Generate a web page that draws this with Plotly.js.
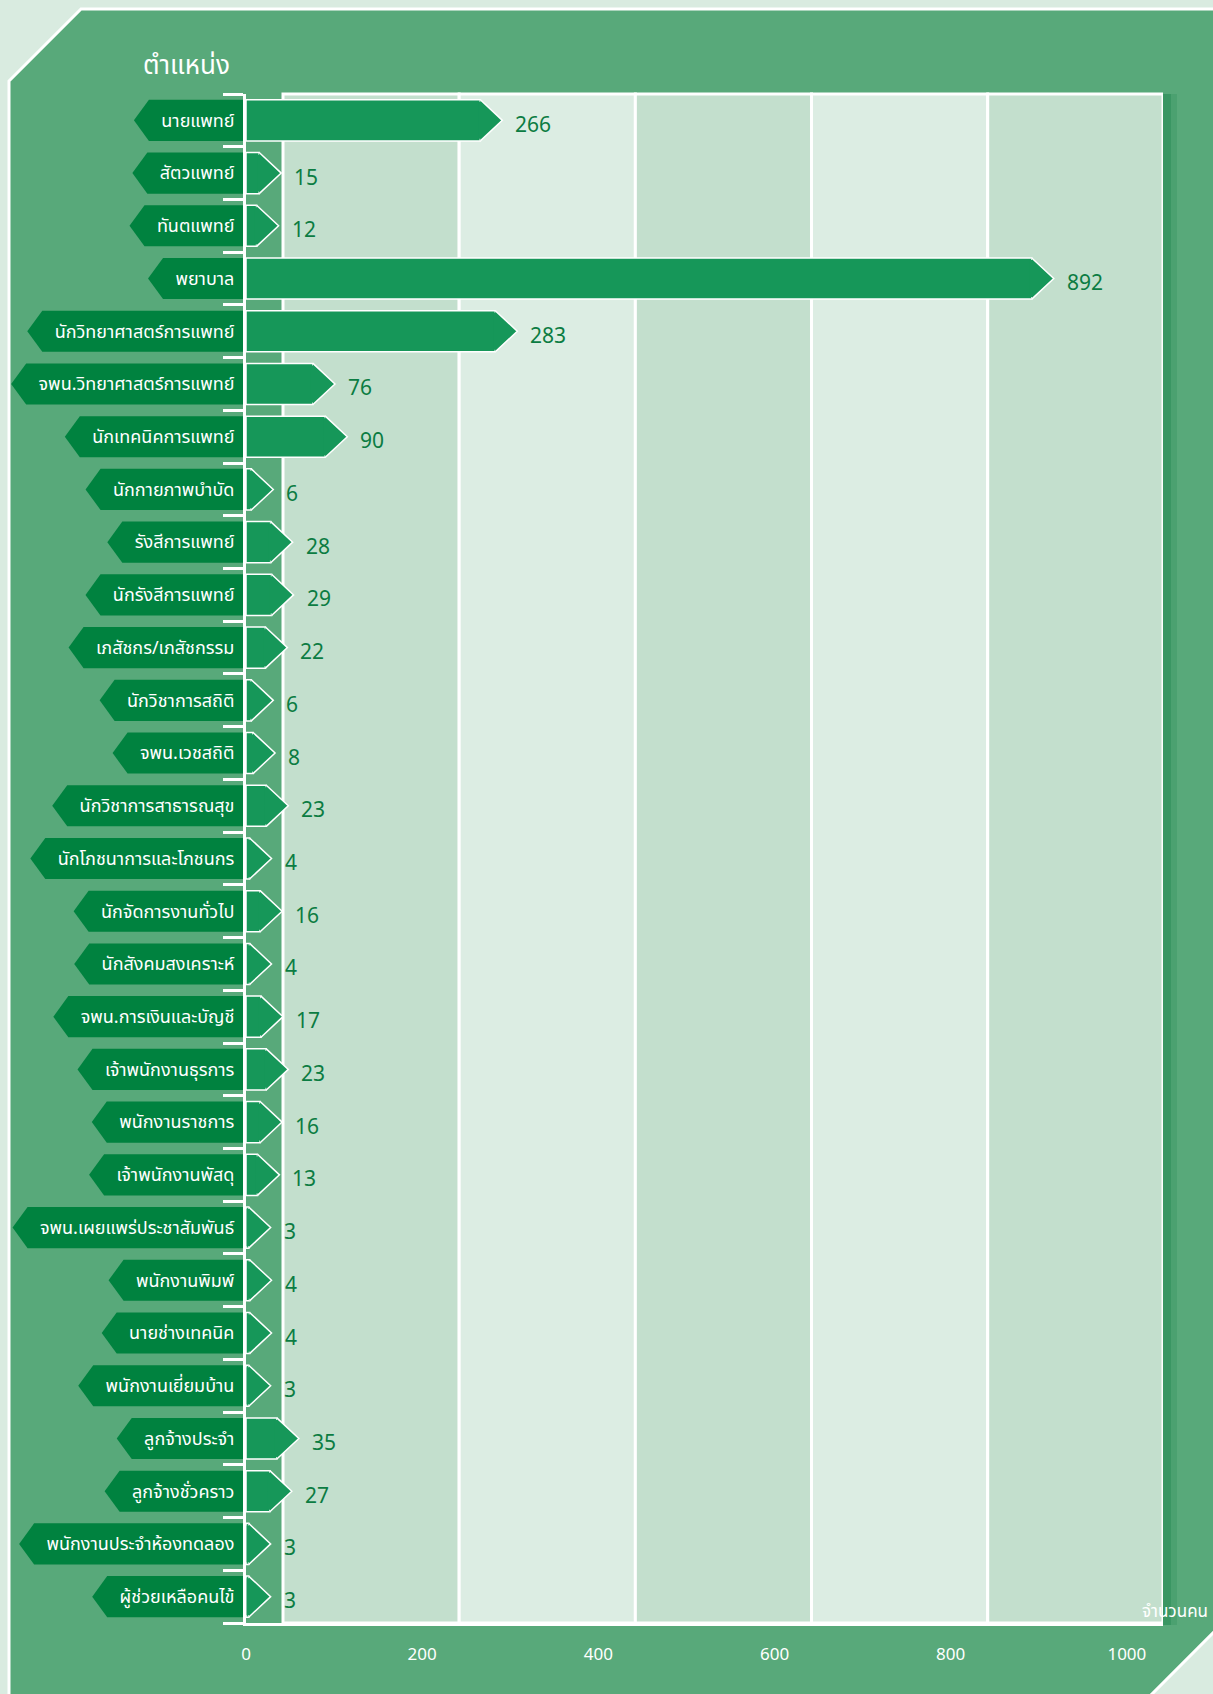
<!DOCTYPE html>
<html>
<head>
<meta charset="utf-8">
<script src="https://cdn.plot.ly/plotly-3.0.1.min.js"></script>
<style>
html,body{margin:0;padding:0;background:#d9ebe0;}
#chart{width:1213px;height:1694px;}
</style>
</head>
<body>
<div id="chart"></div>
<script>
// ---- data ----
const positions = ['นายแพทย์','สัตวแพทย์','ทันตแพทย์','พยาบาล','นักวิทยาศาสตร์การแพทย์','จพน.วิทยาศาสตร์การแพทย์','นักเทคนิคการแพทย์','นักกายภาพบำบัด','รังสีการแพทย์','นักรังสีการแพทย์','เภสัชกร/เภสัชกรรม','นักวิชาการสถิติ','จพน.เวชสถิติ','นักวิชาการสาธารณสุข','นักโภชนาการและโภชนกร','นักจัดการงานทั่วไป','นักสังคมสงเคราะห์','จพน.การเงินและบัญชี','เจ้าพนักงานธุรการ','พนักงานราชการ','เจ้าพนักงานพัสดุ','จพน.เผยแพร่ประชาสัมพันธ์','พนักงานพิมพ์','นายช่างเทคนิค','พนักงานเยี่ยมบ้าน','ลูกจ้างประจำ','ลูกจ้างชั่วคราว','พนักงานประจำห้องทดลอง','ผู้ช่วยเหลือคนไข้'];
const counts = [266,15,12,892,283,76,90,6,28,29,22,6,8,23,4,16,4,17,23,16,13,3,4,4,3,35,27,3,3];
const xTicks = [0,200,400,600,800,1000];
const yTitle = 'ตำแหน่ง';
const xTitle = 'จำนวนคน';

// ---- style ----
const FONT = "'Noto Sans Thai', 'Noto Sans Thai UI', Tahoma, 'Noto Sans', 'DejaVu Sans', sans-serif";
const BAR = '#169759';
const LABELBG = '#00823f';
const VALUE = '#0b7c42';
const PANEL = '#58a97a';
const BAND_D = '#c3dfcd';
const BAND_L = '#dcede3';
const W = 1213, H = 1694;
const M = {l:246, r:50, t:94, b:71};
const PW = W - M.l - M.r, PH = H - M.t - M.b;
const TIP = 22, HALF = 0.39, LABEL_FS = 18;
const BAND_OFFSET = 42, X_MAX = 1041;

const px2x = p => (p - M.l) / PW;
const py2y = p => (M.t + PH - p) / PH;

const idx = positions.map((_, i) => i);

// text measuring for label boxes
const cv = document.createElement('canvas').getContext('2d');
cv.font = LABEL_FS + 'px ' + FONT;

const shapes = [];
// panel
const pp = [[9,81],[81,9],[1222,9],[1222,1624],[1143,1703],[9,1703]];
shapes.push({type:'path', xref:'paper', yref:'paper', layer:'below',
  path: 'M' + pp.map(p => px2x(p[0]).toFixed(5) + ',' + py2y(p[1]).toFixed(5)).join(' L') + ' Z',
  fillcolor: PANEL, line:{color:'white', width:3}});
// soft right shadow of plot area
[[0,8,0.22],[0,14,0.14]].forEach(s => {
  shapes.push({type:'rect', xref:'paper', yref:'paper', layer:'below',
    x0:1 + s[0]/PW, x1:1 + s[1]/PW, y0:-2/PH, y1:1, fillcolor:'rgba(0,110,55,' + s[2] + ')', line:{width:0}});
});
// bands
for (let k = 0; k < 5; k++) {
  shapes.push({type:'rect', xref:'x', yref:'paper', layer:'below',
    x0: BAND_OFFSET + k*200, x1: BAND_OFFSET + (k+1)*200 - (k===4 ? 1 : 0), y0:0, y1:1,
    fillcolor: k % 2 === 0 ? BAND_D : BAND_L, line:{color:'white', width:3}});
}
// label boxes (left pointing)
idx.forEach(i => {
  const w = cv.measureText(positions[i]).width + 24;
  shapes.push({type:'path', xref:'paper', xanchor:0, xsizemode:'pixel', yref:'y', layer:'below',
    path:`M0,${i-HALF} L${-w},${i-HALF} L${-w-15},${i} L${-w},${i+HALF} L0,${i+HALF} Z`,
    fillcolor: LABELBG, line:{width:0}});
});
// bar arrow tips
idx.forEach(i => {
  const v = counts[i], d = 0.04;
  shapes.push({type:'path', xref:'x', xanchor:v, xsizemode:'pixel', yref:'y', layer:'above',
    path:`M-2,${i-HALF+d} L0,${i-HALF+d} L0,${i-HALF} L${TIP},${i} L0,${i+HALF} L0,${i+HALF-d} L-2,${i+HALF-d} Z`,
    fillcolor: BAR, line:{width:0}});
  shapes.push({type:'path', xref:'x', xanchor:v, xsizemode:'pixel', yref:'y', layer:'above',
    path:`M0,${i-HALF} L${TIP},${i} L0,${i+HALF}`,
    fillcolor:'rgba(0,0,0,0)', line:{color:'white', width:1.5}});
});

const annotations = idx.map(i => ({
  x: counts[i], y: i, xref:'x', yref:'y', text: String(counts[i]), showarrow:false,
  xanchor:'left', yanchor:'middle', xshift: TIP + 11, yshift: -5,
  font:{family:FONT, size:21, color:VALUE}
}));
annotations.push({xref:'paper', yref:'paper', x: px2x(1210), y: py2y(1612), xanchor:'right', yanchor:'middle',
  text: xTitle, showarrow:false, font:{family:FONT, size:17, color:'white'}});

const trace = {
  type:'bar', orientation:'h', x: counts, y: idx, width: HALF*2,
  marker:{color: BAR, line:{color:'white', width:1.5}},
  hoverinfo:'skip', showlegend:false
};

const layout = {
  width: W, height: H,
  margin: M,
  paper_bgcolor: '#d9ebe0',
  plot_bgcolor: 'rgba(0,0,0,0)',
  font:{family: FONT, color:'white'},
  title:{text: yTitle, x: 143/W, xanchor:'left', xref:'container', y: 1 - 65/H, yanchor:'middle', yref:'container',
    font:{family: FONT, size: 26, color:'white'}},
  xaxis:{range:[0, X_MAX], tickvals: xTicks, ticktext: xTicks.map(String), showgrid:false, zeroline:false,
    showline:true, linecolor:'white', linewidth:3, ticks:'', ticklabelstandoff: 14,
    tickfont:{family: FONT, size:17, color:'white'}, fixedrange:true},
  yaxis:{range:[positions.length - 0.5, -0.5], tickvals: idx, ticktext: positions, showgrid:false, zeroline:false,
    showline:true, linecolor:'white', linewidth:3, ticks:'', ticklabelstandoff: 5,
    tickfont:{family: FONT, size: LABEL_FS, color:'white'},
    minor:{tickvals: idx.concat([positions.length]).map(i => i - 0.5), ticks:'outside', ticklen:20, tickwidth:3, tickcolor:'white', showgrid:false},
    fixedrange:true},
  shapes: shapes,
  annotations: annotations,
  bargap: 0.2
};

Plotly.newPlot('chart', [trace], layout, {displayModeBar:false, staticPlot:true});
</script>
</body>
</html>
